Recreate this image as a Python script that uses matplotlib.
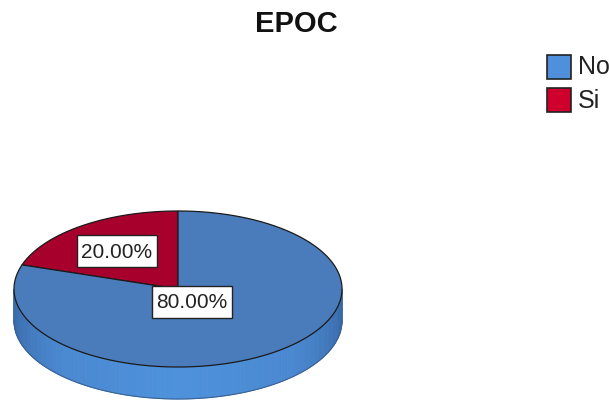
import matplotlib
matplotlib.use("Agg")
import matplotlib.pyplot as plt
import numpy as np
from matplotlib.patches import Rectangle

plt.rcParams["font.family"] = ["Liberation Sans", "DejaVu Sans"]

categories = ["No", "Si"]
percentages = [80.0, 20.0]
top_colors = ["#4a7cbc", "#a8002c"]
legend_colors = ["#4f8fdc", "#d0002c"]

# pie geometry in pixel space
cx, cy = 178.0, 289.0
rx, ry = 164.0, 78.0
depth = 32.0


def ellipse_pts(t0, t1, n=200, dy=0.0):
    t = np.radians(np.linspace(t0, t1, n))
    return cx + rx * np.cos(t), cy - ry * np.sin(t) + dy


fig = plt.figure(figsize=(6.09, 4.0), dpi=100)
ax = fig.add_axes([0, 0, 1, 1])
ax.set_xlim(0, 609)
ax.set_ylim(400, 0)
ax.set_axis_off()

# side wall, drawn as narrow strips for shading
side_cmap = matplotlib.colors.LinearSegmentedColormap.from_list(
    "side", ["#3766a4", "#4a88d0", "#4e92dc", "#4a88d0", "#3766a4"])
edges = np.linspace(180, 360, 121)
for a0, a1 in zip(edges[:-1], edges[1:]):
    xs, ys = ellipse_pts(a0, a1, n=4)
    xb, yb = ellipse_pts(a1, a0, n=4, dy=depth)
    f = (0.5 * (a0 + a1) - 180) / 180
    ax.fill(np.r_[xs, xb], np.r_[ys, yb], color=side_cmap(f), lw=0.6,
            ec=side_cmap(f))
xb, yb = ellipse_pts(180, 360, dy=depth)
ax.plot(xb, yb, color="#3a6296", lw=0.8)

# top face wedges, starting at twelve o'clock going counter-clockwise
start = 90.0
for val, col in zip(percentages[::-1], top_colors[::-1]):
    sweep = 360.0 * val / sum(percentages)
    ex, ey = ellipse_pts(start, start + sweep)
    ax.fill(np.r_[cx, ex, cx], np.r_[cy, ey, cy], color=col, ec="#1a1a1a",
            lw=0.9)
    start += sweep

# value labels in boxed frames
label_pos = {"Si": (117, 251), "No": (192, 301.5)}
box_w, box_h = 80, 32
for cat, val in zip(categories, percentages):
    x, y = label_pos[cat]
    ax.add_patch(Rectangle((x - box_w / 2, y - box_h / 2), box_w, box_h,
                           fc="white", ec="#222222", lw=1.0, zorder=3))
    ax.text(x, y + 1, f"{val:.2f}%", fontsize=15, ha="center", va="center",
            color="#222222", zorder=4)

ax.text(296, 24, "EPOC", fontsize=21, fontweight="bold", ha="center",
        va="center", color="#111111")

# legend
for i, (cat, col) in enumerate(zip(categories, legend_colors)):
    y0 = 55 + i * 33
    ax.add_patch(Rectangle((547, y0), 24, 24, fc=col, ec="#222222", lw=1.2))
    ax.text(578, y0 + 12.5, cat, fontsize=18, ha="left", va="center",
            color="#222222")

fig.savefig("out.png", dpi=100)
